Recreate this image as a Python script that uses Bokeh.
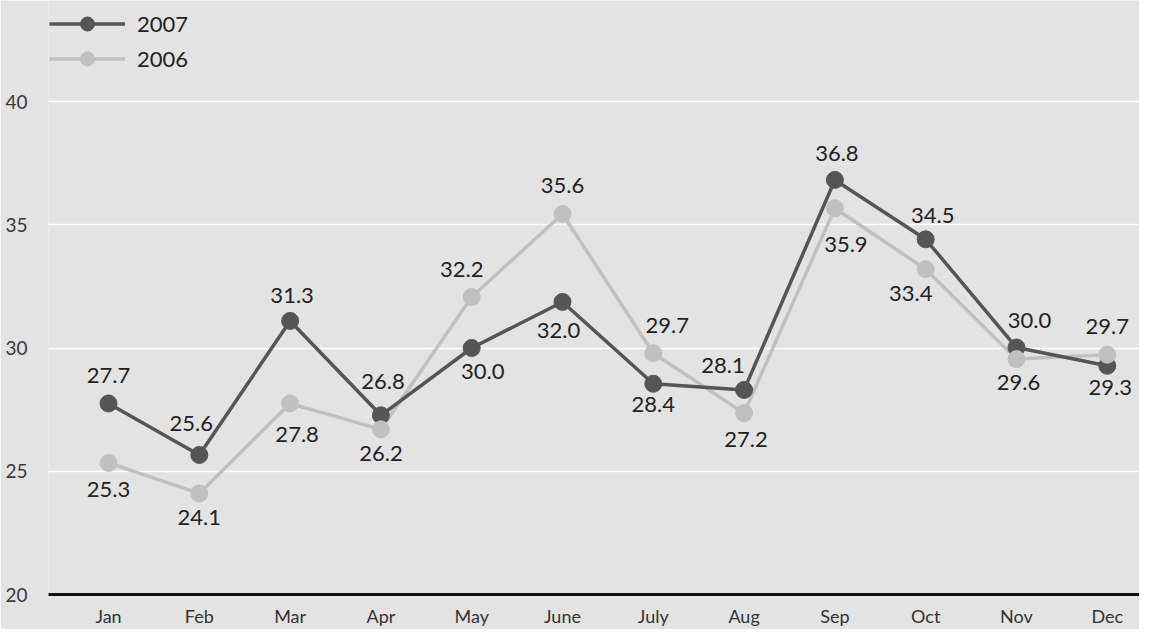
from bokeh.plotting import figure
from bokeh.models import ColumnDataSource, FixedTicker, Legend, LegendItem, Range1d
from bokeh.core.properties import value
from bokeh.embed import file_html
from bokeh.resources import INLINE

months = ["Jan", "Feb", "Mar", "Apr", "May", "June", "July", "Aug", "Sep", "Oct", "Nov", "Dec"]

# plotted positions
values_2007 = [27.75, 25.66, 31.1, 27.27, 30.0, 31.87, 28.55, 28.3, 36.82, 34.41, 30.02, 29.28]
values_2006 = [25.34, 24.1, 27.75, 26.7, 32.07, 35.44, 29.79, 27.36, 35.67, 33.2, 29.55, 29.73]

# printed labels
labels_2007 = ["27.7", "25.6", "31.3", "26.8", "30.0", "32.0", "28.4", "28.1", "36.8", "34.5", "30.0", "29.3"]
labels_2006 = ["25.3", "24.1", "27.8", "26.2", "32.2", "35.6", "29.7", "27.2", "35.9", "33.4", "29.6", "29.7"]

# label placement (style): pixel offsets from the point
dx_2007 = [0, -8, 2, 2, 11, -4, 0, -21, 2, 7, 13, 3]
dy_2007 = [-28, -31, -25, -34, 23, 29, 21, -24, -26, -24, -27, 22]
dx_2006 = [0, 0, 7, 0, -10, 0, 14, 2, 11, -15, 2, 0]
dy_2006 = [27, 24, 31, 24, -28, -28, -28, 26, 36, 24, 23, -28]

BG = "#e3e3e3"
DARK = "#555555"
LIGHT = "#c0c0c0"
FONT = "Lato"

xs = list(range(len(months)))

p = figure(frame_width=1091, frame_height=594, output_backend="svg", toolbar_location=None,
           x_range=Range1d(-0.661, 11.355), y_range=Range1d(20, 44.1),
           background_fill_color=BG, border_fill_color=BG,
           min_border_left=48, min_border_right=0, min_border_top=0, min_border_bottom=0)
p.outline_line_color = None

# axes
p.xaxis.ticker = FixedTicker(ticks=xs)
p.xaxis.major_label_overrides = {i: m for i, m in enumerate(months)}
p.xaxis.axis_line_color = "#111111"
p.xaxis.axis_line_width = 3
p.xaxis.major_tick_line_color = None
p.xaxis.minor_tick_line_color = None
p.xaxis.major_label_text_font = FONT
p.xaxis.major_label_text_font_size = "18px"
p.xaxis.major_label_text_color = "#333333"
p.xaxis.major_label_standoff = 4

p.yaxis.ticker = FixedTicker(ticks=[20, 25, 30, 35, 40])
p.yaxis.axis_line_color = None
p.yaxis.major_tick_line_color = None
p.yaxis.minor_tick_line_color = None
p.yaxis.major_label_text_font = FONT
p.yaxis.major_label_text_font_size = "19px"
p.yaxis.major_label_text_color = "#3a3a3a"
p.yaxis.major_label_standoff = 15

p.xgrid.grid_line_color = None
p.ygrid.grid_line_color = "white"
p.ygrid.grid_line_width = 1.5

src07 = ColumnDataSource(dict(x=xs, y=values_2007, t=labels_2007, dx=dx_2007, dy=dy_2007))
src06 = ColumnDataSource(dict(x=xs, y=values_2006, t=labels_2006, dx=dx_2006, dy=dy_2006))

l06 = p.line("x", "y", source=src06, line_color=LIGHT, line_width=3.5)
l07 = p.line("x", "y", source=src07, line_color=DARK, line_width=3.5)
m07 = p.scatter("x", "y", source=src07, size=17, fill_color=DARK, line_color=DARK)
m06 = p.scatter("x", "y", source=src06, size=17, fill_color=LIGHT, line_color=LIGHT)

for src in (src07, src06):
    p.text("x", "y", text="t", source=src, x_offset="dx", y_offset="dy",
           text_align="center", text_baseline="middle",
           text_font=value(FONT), text_font_size="22px", text_color="#222222")

legend = Legend(items=[LegendItem(label="2007", renderers=[l07, m07]),
                       LegendItem(label="2006", renderers=[l06, m06])],
                location=(1, 518), margin=0, padding=0, spacing=0,
                glyph_width=76, glyph_height=35, label_height=35, label_standoff=12,
                label_text_font=FONT, label_text_font_size="22px", label_text_color="#222222",
                background_fill_alpha=0, border_line_color=None)
p.add_layout(legend)

open("out.html", "w").write(file_html(p, INLINE))
